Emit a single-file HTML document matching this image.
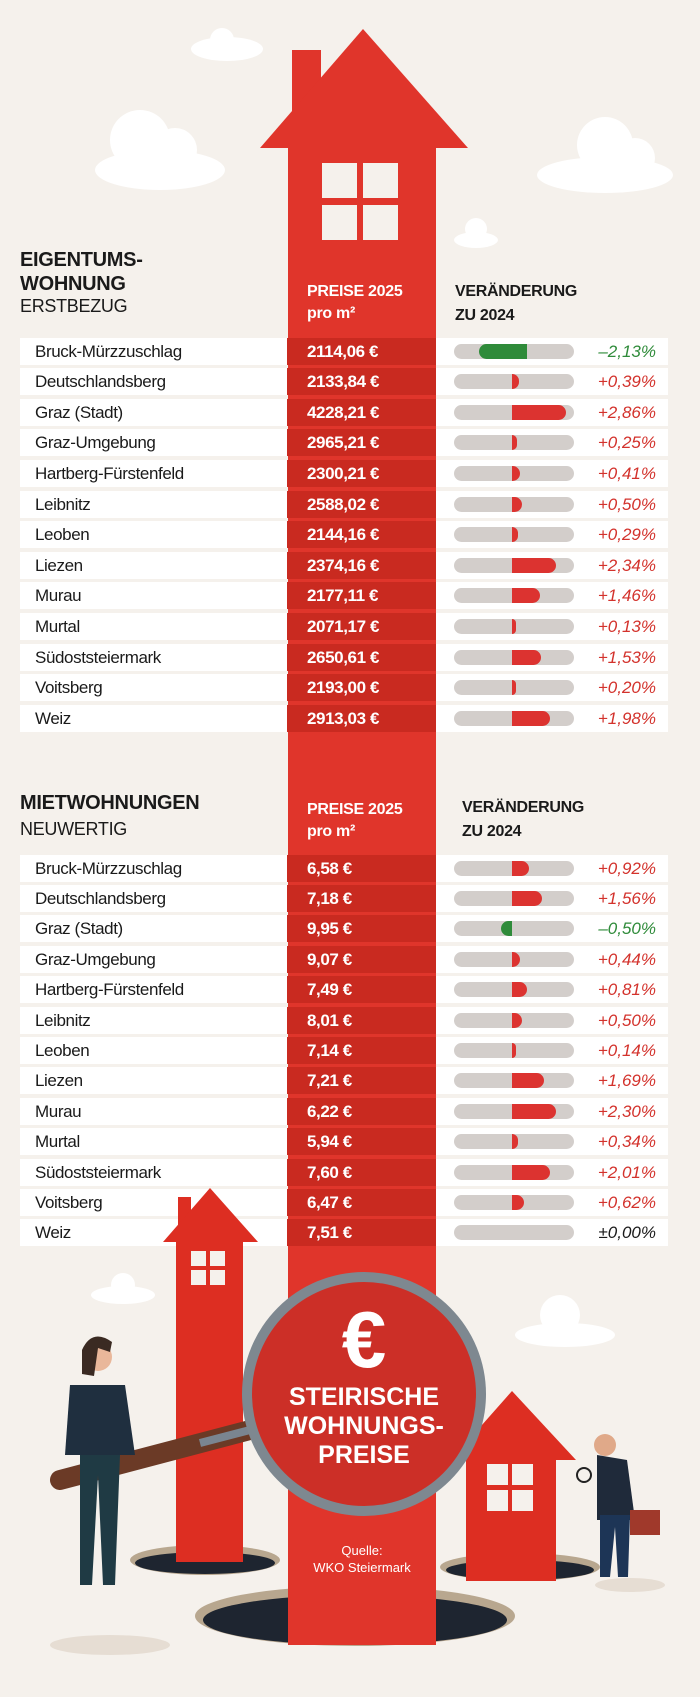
<!DOCTYPE html>
<html><head><meta charset="utf-8"><style>
body{margin:0;width:700px;height:1697px;background:#f5f1ec;position:relative;overflow:hidden;font-family:"Liberation Sans",sans-serif}
.a{position:absolute}
.row{position:absolute;left:20px;width:648px;height:27px;background:#fff}
.nm{position:absolute;left:35px;font-size:17px;color:#1a1a1a;line-height:27px;letter-spacing:-0.4px}
.pr{position:absolute;left:287px;width:149px;height:27px;background:#c92a20}
.pt{position:absolute;left:307px;font-size:17px;font-weight:bold;color:#fff;line-height:27px;letter-spacing:-0.4px}
.bg{position:absolute;left:454px;width:120px;height:15px;border-radius:8px;background:#d3cecb}
.br{position:absolute;height:15px;background:#dc3330;border-radius:0 8px 8px 0}
.bgn{position:absolute;height:15px;background:#2f8b3a;border-radius:8px 0 0 8px}
.pc{position:absolute;left:580px;width:76px;text-align:right;font-size:17px;font-style:italic;line-height:27px;color:#d3322c}
.h1{font-size:20px;font-weight:bold;color:#1a1a1a;line-height:24px;letter-spacing:-0.3px}
.h2{font-size:18px;color:#1a1a1a;letter-spacing:-0.3px}
.hw{font-size:16px;font-weight:bold;color:#fff;line-height:22px;letter-spacing:-0.3px}
.hb{font-size:16px;font-weight:bold;color:#1a1a1a;line-height:24px;letter-spacing:-0.3px}
</style></head><body>
<svg class="a" style="left:0;top:0" width="700" height="1697">
<g fill="#fff">
<ellipse cx="227" cy="49" rx="36" ry="12"/><circle cx="222" cy="40" r="12"/>
<ellipse cx="160" cy="170" rx="65" ry="20"/><circle cx="140" cy="140" r="30"/><circle cx="175" cy="150" r="22"/>
<ellipse cx="605" cy="175" rx="68" ry="18"/><circle cx="605" cy="145" r="28"/><circle cx="635" cy="158" r="20"/>
<ellipse cx="476" cy="240" rx="22" ry="8"/><circle cx="476" cy="229" r="11"/>
<ellipse cx="123" cy="1295" rx="32" ry="9"/><circle cx="123" cy="1285" r="12"/>
<ellipse cx="565" cy="1335" rx="50" ry="12"/><circle cx="560" cy="1315" r="20"/>
</g>
<ellipse cx="355" cy="1616" rx="160" ry="30" fill="#b8a78f"/><ellipse cx="355" cy="1620" rx="152" ry="25" fill="#1e2530"/>
<ellipse cx="205" cy="1560" rx="75" ry="15" fill="#b8a78f"/><ellipse cx="205" cy="1563" rx="70" ry="11" fill="#1e2530"/>
<ellipse cx="520" cy="1567" rx="80" ry="14" fill="#b8a78f"/><ellipse cx="520" cy="1570" rx="74" ry="10" fill="#1e2530"/>
<rect x="292" y="50" width="29" height="70" fill="#e0352b"/>
<polygon points="363,29 468,148 260,148" fill="#e0352b"/>
<rect x="288" y="147" width="148" height="1498" fill="#e0352b"/>
<g fill="#f5f1ec"><rect x="322" y="163" width="35" height="35"/><rect x="363" y="163" width="35" height="35"/><rect x="322" y="205" width="35" height="35"/><rect x="363" y="205" width="35" height="35"/></g>
</svg>

<div class="a h1" style="left:20px;top:248px">EIGENTUMS-<br>WOHNUNG</div>
<div class="a h2" style="left:20px;top:296px">ERSTBEZUG</div>
<div class="a hw" style="left:307px;top:281px">PREISE 2025<br>pro m²</div>
<div class="a hb" style="left:455px;top:280px">VERÄNDERUNG<br>ZU 2024</div>

<div class="a h1" style="left:20px;top:791px">MIETWOHNUNGEN</div>
<div class="a h2" style="left:20px;top:819px">NEUWERTIG</div>
<div class="a hw" style="left:307px;top:799px">PREISE 2025<br>pro m²</div>
<div class="a hb" style="left:462px;top:796px">VERÄNDERUNG<br>ZU 2024</div>

<div id="t"></div>

<svg class="a" style="left:0;top:0" width="700" height="1697">
<rect x="178" y="1197" width="13" height="30" fill="#dd2e22"/>
<polygon points="210,1188 258,1242 163,1242" fill="#dd2e22"/>
<rect x="176" y="1241" width="67" height="321" fill="#dd2e22"/>
<g fill="#f5f1ec"><rect x="191" y="1251" width="15" height="15"/><rect x="210" y="1251" width="15" height="15"/><rect x="191" y="1270" width="15" height="15"/><rect x="210" y="1270" width="15" height="15"/></g>
<polygon points="512,1391 576,1460 451,1460" fill="#dd2e22"/>
<rect x="466" y="1459" width="90" height="122" fill="#dd2e22"/>
<g fill="#f5f1ec"><rect x="487" y="1464" width="21" height="21"/><rect x="512" y="1464" width="21" height="21"/><rect x="487" y="1490" width="21" height="21"/><rect x="512" y="1490" width="21" height="21"/></g>
<line x1="60" y1="1480" x2="250" y2="1430" stroke="#6b3a26" stroke-width="20" stroke-linecap="round"/>
<line x1="200" y1="1443" x2="250" y2="1430" stroke="#7a8590" stroke-width="8"/>
<circle cx="364" cy="1394" r="122" fill="#7e8890"/>
<circle cx="364" cy="1394" r="112" fill="#cc2f27"/>
<ellipse cx="110" cy="1645" rx="60" ry="10" fill="#e6ddd3"/>
<circle cx="98" cy="1357" r="14" fill="#e9b79a"/><path d="M82 1350 q10-22 30-8 l-2 10 -12 -4 -4 28 -12 -2z" fill="#3a2a22"/>
<path d="M70 1385 h55 l10 70 h-70z" fill="#1f2f3f"/>
<path d="M80 1455 h40 l-5 130 h-12 l-5-110 -6 110 h-12z" fill="#1f3a44"/>
<ellipse cx="630" cy="1585" rx="35" ry="7" fill="#e6ddd3"/>
<circle cx="605" cy="1445" r="11" fill="#e0a989"/>
<path d="M597 1455 l30 5 8 60 -38 0z" fill="#1f2a3a"/>
<path d="M600 1515 h30 l-2 62 h-10 l-3-50 -5 50 h-10z" fill="#1d3556"/>
<rect x="630" y="1510" width="30" height="25" fill="#a0392b"/>
<circle cx="584" cy="1475" r="7" fill="none" stroke="#222" stroke-width="2"/>
</svg>

<div class="a" style="left:264px;top:1300px;width:200px;text-align:center;color:#fff;font-weight:bold;font-size:80px;line-height:80px">€</div>
<div class="a" style="left:244px;top:1383px;width:240px;text-align:center;color:#fff;font-weight:bold;font-size:25px;line-height:29px">STEIRISCHE<br>WOHNUNGS-<br>PREISE</div>
<div class="a" style="left:288px;top:1542px;width:148px;text-align:center;color:#fff;font-size:13px;line-height:17px">Quelle:<br>WKO Steiermark</div>

<script>
var names=["Bruck-Mürzzuschlag","Deutschlandsberg","Graz (Stadt)","Graz-Umgebung","Hartberg-Fürstenfeld","Leibnitz","Leoben","Liezen","Murau","Murtal","Südoststeiermark","Voitsberg","Weiz"];
var p1=["2114,06 €","2133,84 €","4228,21 €","2965,21 €","2300,21 €","2588,02 €","2144,16 €","2374,16 €","2177,11 €","2071,17 €","2650,61 €","2193,00 €","2913,03 €"];
var v1=[-2.13,0.39,2.86,0.25,0.41,0.50,0.29,2.34,1.46,0.13,1.53,0.20,1.98];
var p2=["6,58 €","7,18 €","9,95 €","9,07 €","7,49 €","8,01 €","7,14 €","7,21 €","6,22 €","5,94 €","7,60 €","6,47 €","7,51 €"];
var v2=[0.92,1.56,-0.50,0.44,0.81,0.50,0.14,1.69,2.30,0.34,2.01,0.62,0];
var h="";
function tab(y0,pitch,p,v){for(var i=0;i<13;i++){var c=y0+i*pitch,t=c-13.5;
h+='<div class="row" style="top:'+t+'px"></div><div class="pr" style="top:'+t+'px"></div>';
h+='<div class="nm" style="top:'+t+'px">'+names[i]+'</div><div class="pt" style="top:'+t+'px">'+p[i]+'</div>';
h+='<div class="bg" style="top:'+(c-7.5)+'px"></div>';
var x=v[i],s=(x>0?'+':x<0?'–':'±')+Math.abs(x).toFixed(2).replace('.',',')+'%';
if(x>0){h+='<div class="br" style="left:512px;top:'+(c-7.5)+'px;width:'+Math.max(4,x*19)+'px"></div>';}
if(x<0){var w=x<-1?48:11;var r=x<-1?527:512;h+='<div class="bgn" style="left:'+(r-w)+'px;top:'+(c-7.5)+'px;width:'+w+'px"></div>';}
h+='<div class="pc" style="top:'+t+'px;color:'+(x>0?'#d3322c':x<0?'#2f8b3a':'#1a1a1a')+'">'+s+'</div>';}}
tab(351,30.6,p1,v1);tab(868,30.4,p2,v2);
document.getElementById('t').innerHTML=h;
</script>
</body></html>
